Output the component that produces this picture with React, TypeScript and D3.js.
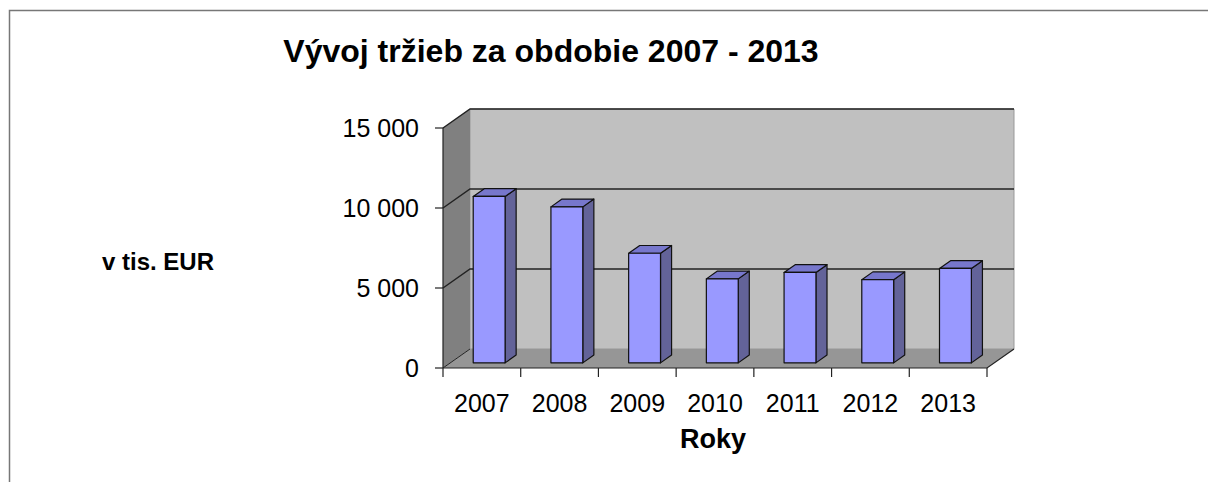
import React from "react";
import * as d3 from "d3";

const years = ["2007", "2008", "2009", "2010", "2011", "2012", "2013"];
const revenue = [10400, 9750, 6850, 5250, 5650, 5200, 5900];
const yTicks = [0, 5000, 10000, 15000];
const title = "Vývoj tržieb za obdobie 2007 - 2013";
const yTitle = "v tis. EUR";
const xTitle = "Roky";

const W = 1208;
const H = 482;
const FONT = "'Liberation Sans', Arial, sans-serif";

export default function App() {
  const x0 = 443, x1 = 987;
  const yFront0 = 368, yFrontTop = 128;
  const DX = 27, DY = 19; // full depth offset
  const fF = 0.27; // bar front plane depth fraction
  const fD = 0.41; // bar depth fraction

  const x = d3.scaleBand<string>().domain(years).range([x0, x1]).paddingInner(0).paddingOuter(0);
  const y = d3.scaleLinear().domain([0, 15000]).range([yFront0, yFrontTop]);

  const fmt = (v: number) => (v === 0 ? "0" : d3.format(",")(v).replace(/,/g, " "));

  const bw = x.bandwidth() * 0.41;
  const fdx = DX * fF, fdy = DY * fF;
  const bdx = DX * fD, bdy = DY * fD;

  const pts = (a: number[][]) => a.map((p) => p.join(",")).join(" ");

  return (
    <svg width={W} height={H} style={{ display: "block", position: "absolute", left: 0, top: 0 }} fontFamily={FONT}>
      <rect x={0} y={0} width={W} height={H} fill="#fff" />
      {/* outer border */}
      <path d={`M9.5,${H} L9.5,10.5 L${W},10.5`} fill="none" stroke="#777" strokeWidth={1.5} />

      {/* back wall */}
      <polygon points={pts([[x0 + DX, yFrontTop - DY], [x1 + DX, yFrontTop - DY], [x1 + DX, yFront0 - DY], [x0 + DX, yFront0 - DY]])} fill="#c0c0c0" stroke="#999" strokeWidth={1} />
      {/* side wall */}
      <polygon points={pts([[x0, yFrontTop], [x0 + DX, yFrontTop - DY], [x0 + DX, yFront0 - DY], [x0, yFront0]])} fill="#808080" />
      {/* floor */}
      <polygon points={pts([[x0, yFront0], [x1, yFront0], [x1 + DX, yFront0 - DY], [x0 + DX, yFront0 - DY]])} fill="#969696" />

      {/* gridlines */}
      {yTicks.filter((t) => t > 0).map((t) => (
        <path key={t} d={`M${x0},${y(t)} L${x0 + DX},${y(t) - DY} L${x1 + DX},${y(t) - DY}`} fill="none" stroke="#222" strokeWidth={1.5} />
      ))}
      {/* floor edges */}
      <path d={`M${x0},${yFront0} L${x1},${yFront0} L${x1 + DX},${yFront0 - DY}`} fill="none" stroke="#222" strokeWidth={1.2} />
      <path d={`M${x0},${yFront0} L${x0 + DX},${yFront0 - DY}`} fill="none" stroke="#222" strokeWidth={1} />
      {/* y axis line */}
      <line x1={x0} x2={x0} y1={yFrontTop} y2={yFront0} stroke="#222" strokeWidth={1.2} />

      {/* y ticks and labels */}
      {yTicks.map((t) => (
        <g key={t}>
          <line x1={x0 - 8} x2={x0} y1={y(t)} y2={y(t)} stroke="#222" strokeWidth={1.2} />
          <text x={419} y={y(t)} dy="0.35em" textAnchor="end" fontSize={25} fill="#000">{fmt(t)}</text>
        </g>
      ))}

      {/* x ticks */}
      {[...years.map((yr) => x(yr)!), x1].map((px, i) => (
        <line key={i} x1={px} x2={px} y1={yFront0} y2={yFront0 + 9} stroke="#222" strokeWidth={1.2} />
      ))}
      {years.map((yr) => (
        <text key={yr} x={x(yr)! + x.bandwidth() / 2} y={412} textAnchor="middle" fontSize={25} fill="#000">{yr}</text>
      ))}

      {/* bars */}
      {years.map((yr, i) => {
        const cx = x(yr)! + x.bandwidth() / 2 + fdx;
        const bl = cx - bw / 2, br = cx + bw / 2;
        const yb = yFront0 - fdy;
        const yt = yb - (yFront0 - y(revenue[i]));
        return (
          <g key={yr} stroke="#111" strokeWidth={1.2} strokeLinejoin="round">
            <polygon points={pts([[br, yt], [br + bdx, yt - bdy], [br + bdx, yb - bdy], [br, yb]])} fill="#636399" />
            <polygon points={pts([[bl, yt], [bl + bdx, yt - bdy], [br + bdx, yt - bdy], [br, yt]])} fill="#7777cc" />
            <rect x={bl} y={yt} width={bw} height={yb - yt} fill="#9999ff" />
          </g>
        );
      })}

      {/* titles */}
      <text x={551} y={62} textAnchor="middle" fontSize={32} fontWeight="bold" fill="#000">{title}</text>
      <text x={158} y={270} textAnchor="middle" fontSize={24} fontWeight="bold" fill="#000">{yTitle}</text>
      <text x={713} y={448} textAnchor="middle" fontSize={27} fontWeight="bold" fill="#000">{xTitle}</text>
    </svg>
  );
}
